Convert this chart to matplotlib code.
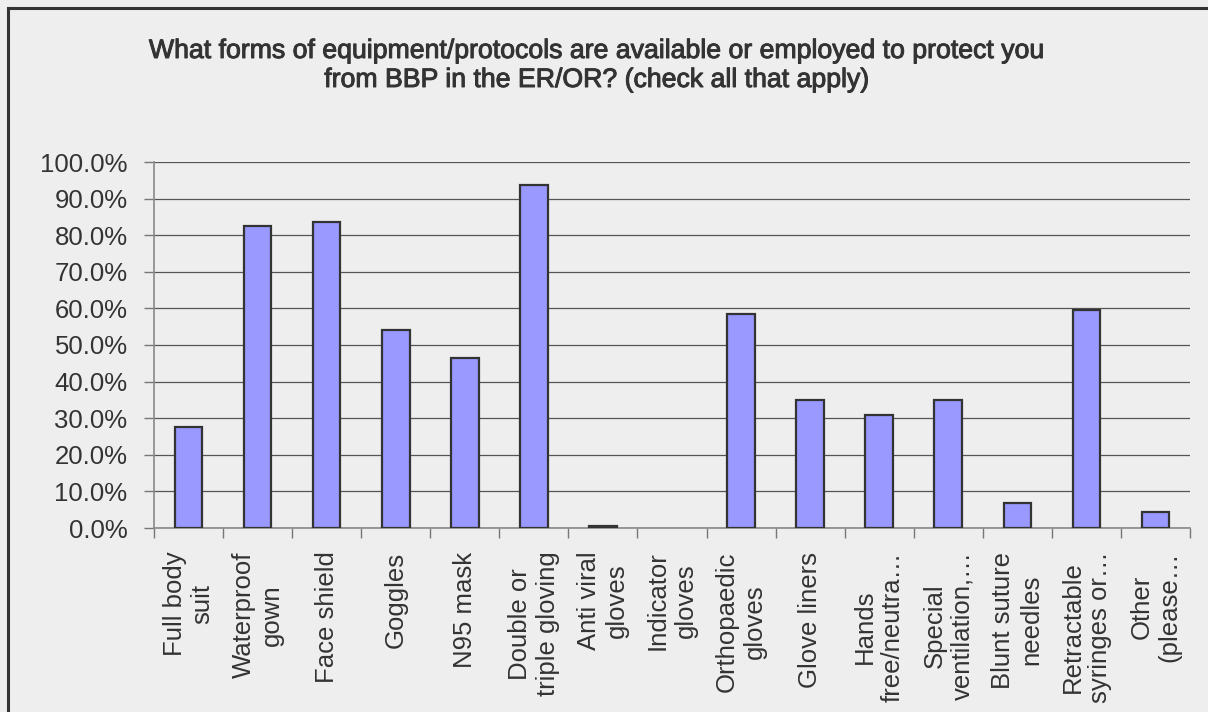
import matplotlib.pyplot as plt
import matplotlib.patheffects as pe
from matplotlib.ticker import PercentFormatter

categories = [
    "Full body\nsuit", "Waterproof\ngown", "Face shield", "Goggles", "N95 mask",
    "Double or\ntriple gloving", "Anti viral\ngloves", "Indicator\ngloves",
    "Orthopaedic\ngloves", "Glove liners", "Hands\nfree/neutra\u2026",
    "Special\nventilation,\u2026", "Blunt suture\nneedles",
    "Retractable\nsyringes or\u2026", "Other\n(please\u2026",
]
percent = [27.6, 82.4, 83.6, 54.1, 46.5, 93.6, 0.6, 0.0,
           58.5, 35.1, 30.9, 35.1, 6.8, 59.6, 4.4]

title = ("What forms of equipment/protocols are available or employed to protect you\n"
         "from BBP in the ER/OR? (check all that apply)")

bg = "#eeeeee"
txt = "#333333"
plt.rcParams["font.family"] = ["Liberation Sans", "DejaVu Sans"]

fig = plt.figure(figsize=(12.08, 7.12), dpi=100, facecolor=bg)
ax = fig.add_axes([154 / 1208, 1 - 528 / 712, 1036 / 1208, 366 / 712])
ax.set_facecolor(bg)

# outer frame, open on the right and bottom
fig.add_artist(plt.Line2D([8 / 1208, 8 / 1208], [0, 1 - 8 / 712],
                          transform=fig.transFigure, color="#333333", lw=2.2))
fig.add_artist(plt.Line2D([8 / 1208, 1], [1 - 8 / 712, 1 - 8 / 712],
                          transform=fig.transFigure, color="#333333", lw=2.2))

x = range(len(categories))
bars = ax.bar(x, percent, width=0.4, color="#9999ff", edgecolor="#333333",
              linewidth=1.6, zorder=3)
for b, v in zip(bars, percent):
    if v == 0:
        b.set_linewidth(0)

ax.set_xlim(-0.5, len(categories) - 0.5)
ax.set_ylim(0, 100)
ax.set_yticks(range(0, 101, 10))
ax.yaxis.set_major_formatter(PercentFormatter(decimals=1))
ax.yaxis.grid(True, color="#555555", lw=0.9, zorder=0)

ax.set_xticks(x)
ax.set_xticklabels(categories, rotation=90, ha="center", va="top",
                   multialignment="center", fontsize=18.5, color=txt)
# category boundary ticks
ax.set_xticks([i - 0.5 for i in range(len(categories) + 1)], minor=True)
ax.tick_params(axis="x", which="major", length=0, pad=17)
ax.tick_params(axis="x", which="minor", length=7, width=1, color="#777777")
ax.tick_params(axis="y", length=7, width=1, color="#777777", pad=12,
               labelsize=18.5, labelcolor=txt)

for s in ["top", "right"]:
    ax.spines[s].set_visible(False)
for s in ["left", "bottom"]:
    ax.spines[s].set_color("#888888")
    ax.spines[s].set_linewidth(1.2)

fig.text(596 / 1208, 1 - 38 / 712, title, ha="center", va="top", fontsize=19.2,
         color=txt, linespacing=1.15,
         path_effects=[pe.withStroke(linewidth=0.7, foreground=txt)])

fig.savefig("out.png", dpi=100, facecolor=bg)
